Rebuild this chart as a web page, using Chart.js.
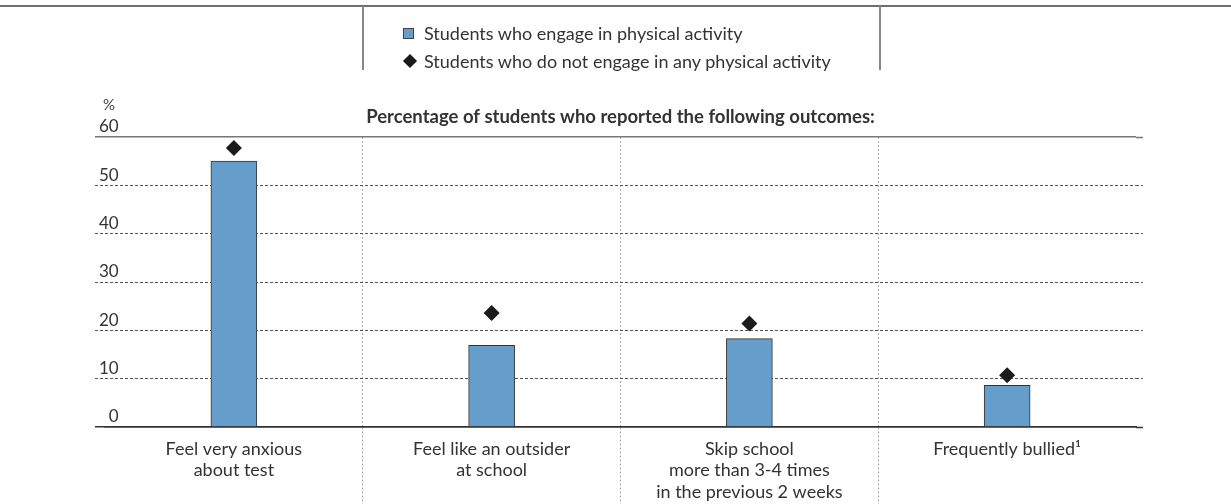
<!DOCTYPE html>
<html>
<head>
<meta charset="utf-8">
<script src="https://cdn.jsdelivr.net/npm/chart.js@4"></script>
<style>
  body { margin: 0; background: #fff; font-family: Lato, sans-serif; }
  #wrap { position: relative; width: 1231px; height: 504px; }
  #chart { position: absolute; left: 0; top: 0; }
  .rule { position: absolute; background: #6f6f6f; }
  .legend-row { position: absolute; left: 403px; height: 22px; line-height: 22px; font-size: 18px; color: #333; white-space: nowrap; }
  .legend-row .mark { position: absolute; left: 0; }
  .legend-row span.txt { position: absolute; left: 21px; top: 0; }
  #pct { position: absolute; left: 103px; top: 95px; font-size: 15px; color: #444; }
</style>
</head>
<body>
<div id="wrap">
  <canvas id="chart" width="1231" height="504"></canvas>
  <div class="rule" style="left:0;top:5px;width:1231px;height:2px;"></div>
  <div class="rule" style="left:362px;top:6px;width:2px;height:64px;background:#888;"></div>
  <div class="rule" style="left:879px;top:6px;width:2px;height:64px;background:#888;"></div>
  <div id="legend"></div>
  <div id="pct">%</div>
</div>
<script>
// ----------------------------------------------------
// Data
// ----------------------------------------------------
const categories = [
    ['Feel very anxious', 'about test'],
    ['Feel like an outsider', 'at school'],
    ['Skip school', 'more than 3-4 times', 'in the previous 2 weeks'],
    ['Frequently bullied\u00B9']
];
const engaged = [55.0, 16.9, 18.3, 8.6];      // bars
const notEngaged = [57.7, 23.6, 21.4, 10.7];  // diamonds
const yTicks = [0, 10, 20, 30, 40, 50, 60];

const seriesNames = [
    'Students who engage in physical activity',
    'Students who do not engage in any physical activity'
];
const chartTitle = 'Percentage of students who reported the following outcomes:';

const barColor = '#659ecb';
const diamondColor = '#1b1b1b';
const textColor = '#333';

// ----------------------------------------------------
// Legend (html, two stacked rows like the original)
// ----------------------------------------------------
const legend = document.getElementById('legend');
legend.innerHTML =
    '<div class="legend-row" style="top:22px"><div class="mark" style="top:6px;width:9px;height:9px;background:' + barColor + ';border:1px solid #444"></div><span class="txt">' + seriesNames[0] + '</span></div>' +
    '<div class="legend-row" style="top:50px"><div class="mark" style="top:6px;left:2px;width:10px;height:10px;background:' + diamondColor + ';transform:rotate(45deg)"></div><span class="txt">' + seriesNames[1] + '</span></div>';

// ----------------------------------------------------
// Grid helpers: 0 and 60 solid, the rest dashed
// ----------------------------------------------------
const yLineColor = (ctx) => {
    if (ctx.type !== 'tick') return '#444';
    if (ctx.tick.value === 0) return '#333';
    if (ctx.tick.value === 60) return '#777';
    return '#555';
};
const yLineWidth = (ctx) => (ctx.type === 'tick' && (ctx.tick.value === 0 || ctx.tick.value === 60)) ? 1.5 : 1;
const yDash = (ctx) => (ctx.type === 'tick' && ctx.tick.value !== 0 && ctx.tick.value !== 60) ? [3, 2] : [];
const xSepColor = (ctx) => (ctx.type === 'tick' && ctx.index > 0) ? '#aaa' : 'rgba(0,0,0,0)';

Chart.defaults.font.family = 'Lato, sans-serif';
Chart.defaults.color = textColor;

new Chart(document.getElementById('chart'), {
    type: 'bar',
    data: {
        labels: categories,
        datasets: [
            {
                label: seriesNames[1],
                type: 'line',
                data: notEngaged,
                showLine: false,
                pointStyle: 'rectRot',
                pointRadius: 8,
                pointHoverRadius: 8,
                pointBackgroundColor: diamondColor,
                pointBorderWidth: 0,
                order: 1
            },
            {
                label: seriesNames[0],
                data: engaged,
                backgroundColor: barColor,
                borderColor: '#333',
                borderWidth: 1,
                barThickness: 46,
                order: 2
            }
        ]
    },
    options: {
        responsive: false,
        animation: false,
        layout: { padding: { top: 0, left: 0, right: 0, bottom: 0 } },
        plugins: {
            legend: { display: false },
            tooltip: { enabled: false },
            title: {
                display: true,
                text: chartTitle,
                fullSize: false,
                color: textColor,
                font: { size: 18.5, weight: 'bold', lineHeight: 1.2 },
                padding: { top: 105.6, bottom: 9.2 }
            }
        },
        scales: {
            x: {
                offset: true,
                grid: {
                    offset: true,
                    color: xSepColor,
                    tickColor: xSepColor,
                    lineWidth: 1,
                    tickLength: 80,
                    tickBorderDash: [2, 2]
                },
                border: {
                    color: '#333',
                    width: 1.5,
                    dash: (ctx) => ctx.type === 'tick' ? [2, 2] : []
                },
                ticks: {
                    autoSkip: false,
                    maxRotation: 0,
                    padding: -69,
                    color: textColor,
                    font: { size: 18, lineHeight: 1.2 }
                },
                afterFit: (scale) => { scale.height = 77; }
            },
            y: {
                position: 'left',
                min: 0,
                max: 60,
                afterBuildTicks: (scale) => { scale.ticks = yTicks.map(v => ({ value: v })); },
                ticks: {
                    mirror: true,
                    crossAlign: 'far',
                    padding: -6,
                    labelOffset: -10,
                    color: textColor,
                    font: { size: 17 }
                },
                grid: {
                    color: yLineColor,
                    lineWidth: yLineWidth,
                    tickColor: yLineColor,
                    tickWidth: yLineWidth,
                    tickBorderDash: yDash,
                    tickLength: 10
                },
                border: { display: false, dash: yDash },
                afterFit: (scale) => { scale.width = 105; }
            },
            y2: {
                position: 'right',
                min: 0,
                max: 60,
                afterBuildTicks: (scale) => { scale.ticks = yTicks.map(v => ({ value: v })); },
                ticks: { display: false },
                grid: {
                    drawOnChartArea: false,
                    tickColor: yLineColor,
                    tickWidth: yLineWidth,
                    tickBorderDash: yDash,
                    tickLength: 7
                },
                border: { display: false, dash: yDash },
                afterFit: (scale) => { scale.width = 95; }
            }
        }
    }
});
</script>
</body>
</html>
